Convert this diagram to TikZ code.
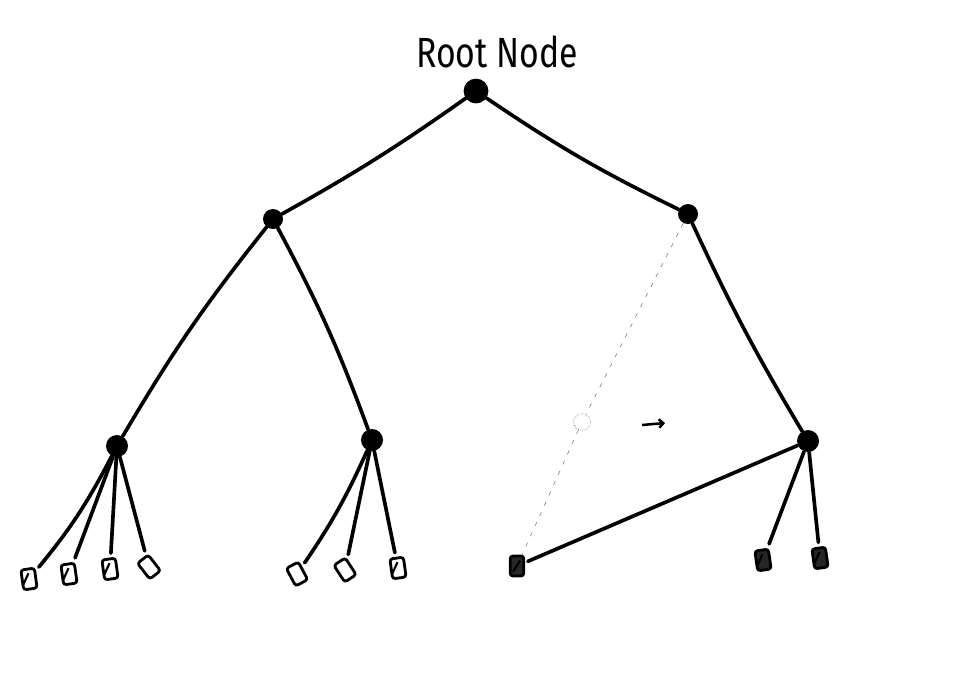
\documentclass[tikz,border=0pt]{standalone}
\usepackage{fontspec}
\setmainfont{Fira Sans}
\usetikzlibrary{arrows.meta}

\begin{document}
\begin{tikzpicture}[
  x=0.025cm, y=-0.025cm,
  dot/.style={circle, fill=black, inner sep=0pt, minimum size=0.55cm},
  ghost/.style={circle, draw=black!70, densely dotted, thin, inner sep=0pt, minimum size=0.42cm},
  leaf/.style={rectangle, draw, line width=2pt, rounded corners=2pt, inner sep=0pt,
    minimum width=0.34cm, minimum height=0.5cm, rotate=8,
    path picture={\draw[line width=1.5pt] (path picture bounding box.south west) ++(2pt,3pt) -- ++(5pt,8pt);}},
  leafdark/.style={leaf, fill=black!85},
  edge/.style={line width=2.6pt, line cap=round},
  twig/.style={edge, shorten >=3pt},
  ghostedge/.style={thin, draw=black!55, dash pattern=on 3pt off 5pt},
]
\useasboundingbox (0,0) rectangle (960,679);

\node[font=\fontsize{30}{32}\selectfont, xscale=0.8] (title) at (497,52) {Root Node};

% Inner nodes
\node[dot, minimum size=0.62cm] (root) at (476,91) {};
\node[dot, minimum size=0.5cm] (l) at (273,219) {};
\node[dot, minimum size=0.5cm] (r) at (688,214) {};
\node[dot] (ll) at (117,446) {};
\node[dot] (lr) at (372,440) {};
\node[dot] (rr) at (808,441) {};
\node[ghost] (gone) at (582,422) {};

% Leaves
\node[leaf] (a1) at (29,579) {};
\node[leaf] (a2) at (69,574) {};
\node[leaf] (a3) at (110,569) {};
\node[leaf, rotate=30] (a4) at (149,567) {};
\node[leaf, rotate=20] (b1) at (297,574) {};
\node[leaf, rotate=25] (b2) at (345,570) {};
\node[leaf] (b3) at (398,568) {};
\node[leafdark, rotate=-8] (c1) at (517,566) {};
\node[leafdark] (d1) at (763,560) {};
\node[leafdark] (d2) at (820,558) {};

% Edges
\draw[edge] (root) to[bend left=3] (l);
\draw[edge] (root) to[bend right=4] (r);
\draw[edge] (l) to[bend right=4] (ll);
\draw[edge] (l) to[bend left=4] (lr);
\draw[edge] (r) to[bend right=3] (rr);
\draw[edge, shorten >=2pt] (rr) -- (c1);
\draw[ghostedge] (r) -- (gone);
\draw[ghostedge] (gone) -- (c1);

\draw[twig] (ll) to[bend left=6] (a1);
\draw[twig] (ll) -- (a2);
\draw[twig] (ll) -- (a3);
\draw[twig] (ll) -- (a4);
\draw[twig] (lr) to[bend left=5] (b1);
\draw[twig] (lr) -- (b2);
\draw[twig] (lr) -- (b3);
\draw[twig] (rr) -- (d1);
\draw[twig] (rr) -- (d2);

% Arrow
\coordinate (tail) at (642,425);
\coordinate (head) at (665,423);
\draw[line width=1.8pt, -{Straight Barb[length=3pt]}] (tail) -- (head);

\end{tikzpicture}
\end{document}
